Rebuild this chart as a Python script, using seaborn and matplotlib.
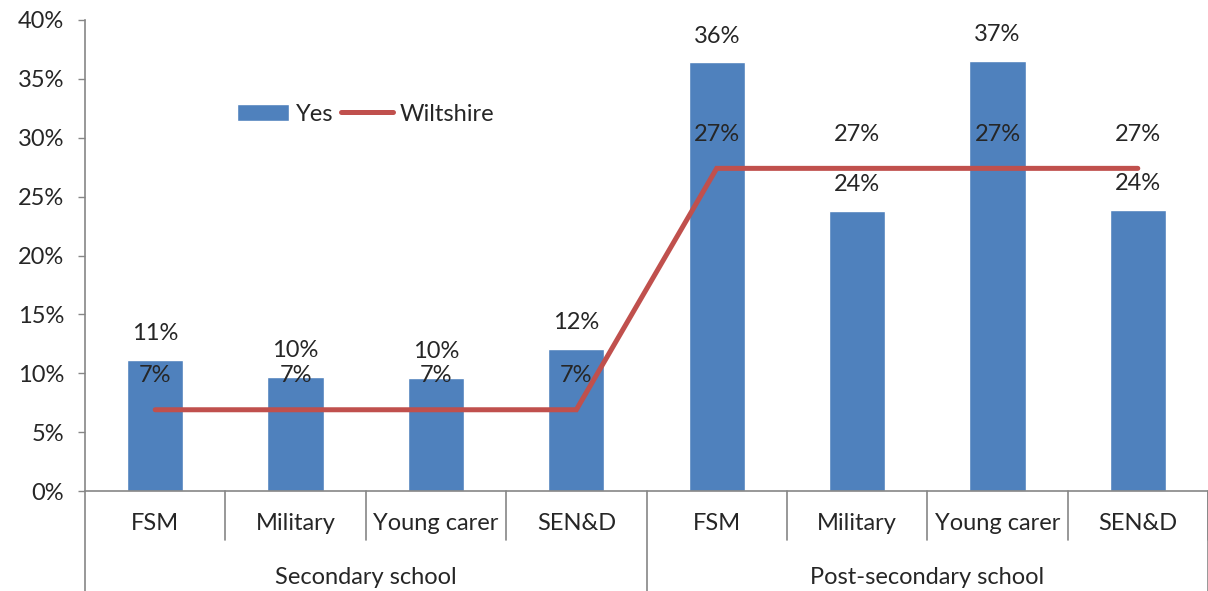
import pandas as pd
import seaborn as sns
import matplotlib
import matplotlib.pyplot as plt
from matplotlib.patches import Patch
from matplotlib.lines import Line2D
matplotlib.use('Agg')

# Chart data
groups = ["Secondary school"] * 4 + ["Post-secondary school"] * 4
subcats = ["FSM", "Military", "Young carer", "SEN&D"] * 2
yes_vals = [11.1, 9.7, 9.6, 12.1, 36.4, 23.8, 36.5, 23.9]
wiltshire_vals = [6.9, 6.9, 6.9, 6.9, 27.4, 27.4, 27.4, 27.4]
yes_labels = ["11%", "10%", "10%", "12%", "36%", "24%", "37%", "24%"]
wilt_labels = ["7%", "7%", "7%", "7%", "27%", "27%", "27%", "27%"]
y_ticks = [0, 5, 10, 15, 20, 25, 30, 35, 40]

BLUE = "#4F81BD"
RED = "#C0504D"
GRAY = "#868686"


def main():
    sns.set_style("white")
    plt.rcParams['font.family'] = ['Lato', 'DejaVu Sans']
    fs = 17

    df = pd.DataFrame({"slot": [f"{g}|{s}" for g, s in zip(groups, subcats)],
                       "yes": yes_vals, "wilt": wiltshire_vals})

    fig = plt.figure(figsize=(12.08, 5.91), dpi=100)
    ax = fig.add_axes([85 / 1208, 1 - 491 / 591, 1 - 85 / 1208, (491 - 20) / 591])

    sns.barplot(data=df, x="slot", y="yes", color=BLUE, width=0.4,
                saturation=1, ax=ax)
    xs = list(range(len(df)))
    ax.plot(xs, df["wilt"], color=RED, lw=3.6, solid_capstyle='round',
            solid_joinstyle='miter')

    # Value labels
    for x, v, lab in zip(xs, yes_vals, yes_labels):
        ax.annotate(lab, (x, v), xytext=(0, 19), textcoords='offset points',
                    ha='center', va='center', fontsize=fs)
    for x, v, lab in zip(xs, wiltshire_vals, wilt_labels):
        ax.annotate(lab, (x, v), xytext=(0, 24.5), textcoords='offset points',
                    ha='center', va='center', fontsize=fs)

    ax.set_xlim(-0.5, 7.5)
    ax.set_ylim(0, 40)
    ax.set_yticks(y_ticks)
    ax.set_yticklabels([f"{t}%" for t in y_ticks], fontsize=fs)
    ax.tick_params(axis='y', length=5, width=1, color=GRAY, pad=10, direction='out', left=True)
    ax.set_xticks([])
    ax.set_xlabel("")
    ax.set_ylabel("")

    for side in ["top", "right"]:
        ax.spines[side].set_visible(False)
    ax.spines["bottom"].set_color(GRAY)
    ax.spines["left"].set_color(GRAY)
    ax.spines["bottom"].set_linewidth(1.2)
    ax.spines["left"].set_linewidth(1.2)

    # Two-level category axis
    trans = ax.get_xaxis_transform()
    short = -49 / 471
    full = -101 / 471
    for b in [0.5, 1.5, 2.5, 4.5, 5.5, 6.5, 7.5]:
        ax.plot([b, b], [0, short], transform=trans, color=GRAY, lw=1.2, clip_on=False)
    for b in [-0.5, 3.5, 7.5]:
        ax.plot([b, b], [0, full], transform=trans, color=GRAY, lw=1.2, clip_on=False)
    for x, s in zip(xs, subcats):
        ax.text(x, -32 / 471, s, transform=trans, ha='center', va='center', fontsize=fs)
    for g, gx in [(groups[0], 1.5), (groups[4], 5.5)]:
        ax.text(gx, -86 / 471, g, transform=trans, ha='center', va='center', fontsize=fs)

    handles = [Patch(facecolor=BLUE, label="Yes"),
               Line2D([0], [0], color=RED, lw=3.6, solid_capstyle='round', label="Wiltshire")]
    ax.legend(handles=handles, loc='center', bbox_to_anchor=(0.25, 0.8), ncol=2,
              frameon=False, fontsize=fs, handlelength=2.2, handletextpad=0.3,
              columnspacing=0.3)

    plt.savefig("out.png", dpi=100)


if __name__ == "__main__":
    main()
